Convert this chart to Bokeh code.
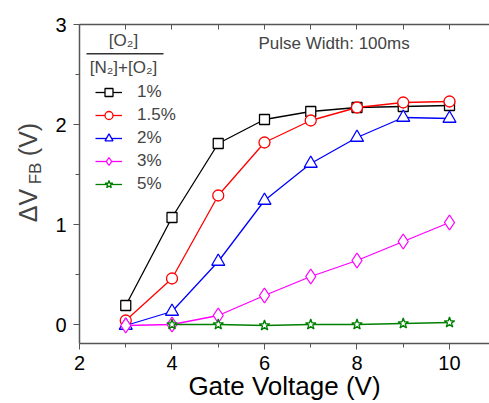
import numpy as np
from bokeh.plotting import figure
from bokeh.layouts import row
from bokeh.models import (Range1d, LinearAxis, FixedTicker, Legend, LegendItem,
                          Label, BoxAnnotation, ColumnDataSource)
from bokeh.embed import file_html
from bokeh.resources import INLINE

# ---- data ----
gate_v = [3, 4, 5, 6, 7, 8, 9, 10]
dvfb_1 = [0.19, 1.07, 1.81, 2.05, 2.13, 2.17, 2.18, 2.19]
dvfb_15 = [0.04, 0.46, 1.29, 1.82, 2.04, 2.17, 2.22, 2.23]
dvfb_2 = [-0.01, 0.13, 0.63, 1.24, 1.61, 1.87, 2.07, 2.06]
dvfb_3 = [-0.01, 0.00, 0.09, 0.29, 0.48, 0.64, 0.83, 1.02]
gate_v_5 = [4, 5, 6, 7, 8, 9, 10]
dvfb_5 = [0.00, 0.00, -0.01, 0.00, 0.00, 0.01, 0.02]
series_labels = ["1%", "1.5%", "2%", "3%", "5%"]
x_ticks = [2, 4, 6, 8, 10]
y_ticks = [0, 1, 2, 3]

FONT = "Liberation Sans"
AX = "#555555"
LW = 50  # width of the y-title strip

XS, XE = 2.0, 10.865
YS, YE = -0.19, 3.0


def lab(fig, x, y, text, size, align="center", baseline="middle", angle=0.0):
    fig.add_layout(Label(x=x, y=y, x_units="canvas", y_units="canvas", text=text,
                         text_font=FONT, text_font_size=size, text_align=align,
                         text_baseline=baseline, angle=angle))


# ---- y-axis title strip ----
yt = figure(width=LW, height=403, output_backend="svg", toolbar_location=None,
            x_range=Range1d(0, LW), y_range=Range1d(0, 403),
            min_border_left=0, min_border_right=0, min_border_top=0,
            min_border_bottom=0, x_axis_location=None, y_axis_location=None)
yt.outline_line_color = None
yt.xgrid.visible = False
yt.ygrid.visible = False
lab(yt, 27, 205, "ΔV", "25px", angle=np.pi / 2)
lab(yt, 35, 173, "FB", "17px", angle=np.pi / 2)
lab(yt, 27, 139, "(V)", "25px", angle=np.pi / 2)

# ---- main plot ----
p = figure(width=489 - LW, height=403, output_backend="svg", toolbar_location=None,
           x_range=Range1d(XS, XE), y_range=Range1d(YS, YE),
           min_border_left=79 - LW, min_border_right=0, min_border_top=24,
           min_border_bottom=60, x_axis_location=None, y_axis_location=None)
p.outline_line_color = None
p.xgrid.visible = False
p.ygrid.visible = False

# bottom axis
xb = LinearAxis(ticker=FixedTicker(ticks=x_ticks, minor_ticks=[3, 5, 7, 9]))
xb.axis_line_color = AX
xb.axis_line_width = 1.5
xb.major_tick_line_color = AX
xb.minor_tick_line_color = AX
xb.major_tick_in = 0
xb.major_tick_out = 6
xb.minor_tick_in = 0
xb.minor_tick_out = 4
xb.major_label_text_font = FONT
xb.major_label_text_font_size = "20px"
xb.major_label_text_color = "black"
xb.major_label_standoff = 6
xb.axis_label = "Gate Voltage (V)"
xb.axis_label_text_font = FONT
xb.axis_label_text_font_size = "26px"
xb.axis_label_text_font_style = "normal"
xb.axis_label_text_color = "black"
xb.axis_label_standoff = -2
p.add_layout(xb, "below")

# top axis (ticks only)
xt = LinearAxis(ticker=FixedTicker(ticks=x_ticks, minor_ticks=[3, 5, 7, 9]))
xt.axis_line_color = AX
xt.axis_line_width = 1.5
xt.major_tick_line_color = AX
xt.minor_tick_line_color = AX
xt.major_tick_in = 5
xt.major_tick_out = 0
xt.minor_tick_in = 5
xt.minor_tick_out = 0
xt.major_label_text_alpha = 0
xt.major_label_text_font_size = "1px"
xt.major_label_overrides = {t: "" for t in x_ticks}
xt.major_label_standoff = 0
p.add_layout(xt, "above")

# left axis
yl = LinearAxis(ticker=FixedTicker(ticks=y_ticks, minor_ticks=[0.5, 1.5, 2.5]))
yl.axis_line_color = AX
yl.axis_line_width = 1.5
yl.major_tick_line_color = AX
yl.minor_tick_line_color = AX
yl.major_tick_in = 0
yl.major_tick_out = 6
yl.minor_tick_in = 0
yl.minor_tick_out = 4
yl.major_label_text_font = FONT
yl.major_label_text_font_size = "20px"
yl.major_label_text_color = "black"
yl.major_label_standoff = 7
p.add_layout(yl, "left")

# ---- series ----
specs = [
    (gate_v, dvfb_1, "black", "square", 10),
    (gate_v, dvfb_15, "#ff0000", "circle", 11),
    (gate_v, dvfb_2, "#0000ff", "triangle", 13),
    (gate_v, dvfb_3, "#ff00ff", "diamond", 15),
    (gate_v_5, dvfb_5, "#008000", "star", 11),
]
items = []
for (xv, yv, col, mk, sz), lb in zip(specs, series_labels):
    src = ColumnDataSource(dict(x=xv, y=yv))
    r1 = p.line("x", "y", source=src, line_color=col, line_width=1.3)
    r2 = p.scatter("x", "y", source=src, marker=mk, size=sz, line_color=col,
                   fill_color="white", line_width=1.3)
    items.append(LegendItem(label=lb, renderers=[r1, r2]))

leg = Legend(items=items, location=(16, 149))
leg.label_text_font = FONT
leg.label_text_font_size = "17px"
leg.label_height = 20
leg.glyph_height = 20
leg.glyph_width = 27
leg.spacing = 3
leg.padding = 0
leg.margin = 0
leg.label_standoff = 15
leg.border_line_alpha = 0
leg.background_fill_alpha = 0
p.add_layout(leg, "center")

# ---- in-plot texts (canvas pixels of the main figure) ----
lab(p, 258 - LW, 43, "Pulse Width: 100ms", "17px", align="left")
lab(p, 123 - LW, 40, "[O₂]", "17px")
lab(p, 123 - LW, 67, "[N₂]+[O₂]", "17px")
p.add_layout(BoxAnnotation(left=86 - LW, right=163 - LW, top=52.5, bottom=54,
                           left_units="canvas", right_units="canvas",
                           top_units="canvas", bottom_units="canvas",
                           fill_color="#333333", fill_alpha=1, line_alpha=0))

layout = row(yt, p, spacing=0)
open("out.html", "w").write(file_html(layout, INLINE))
